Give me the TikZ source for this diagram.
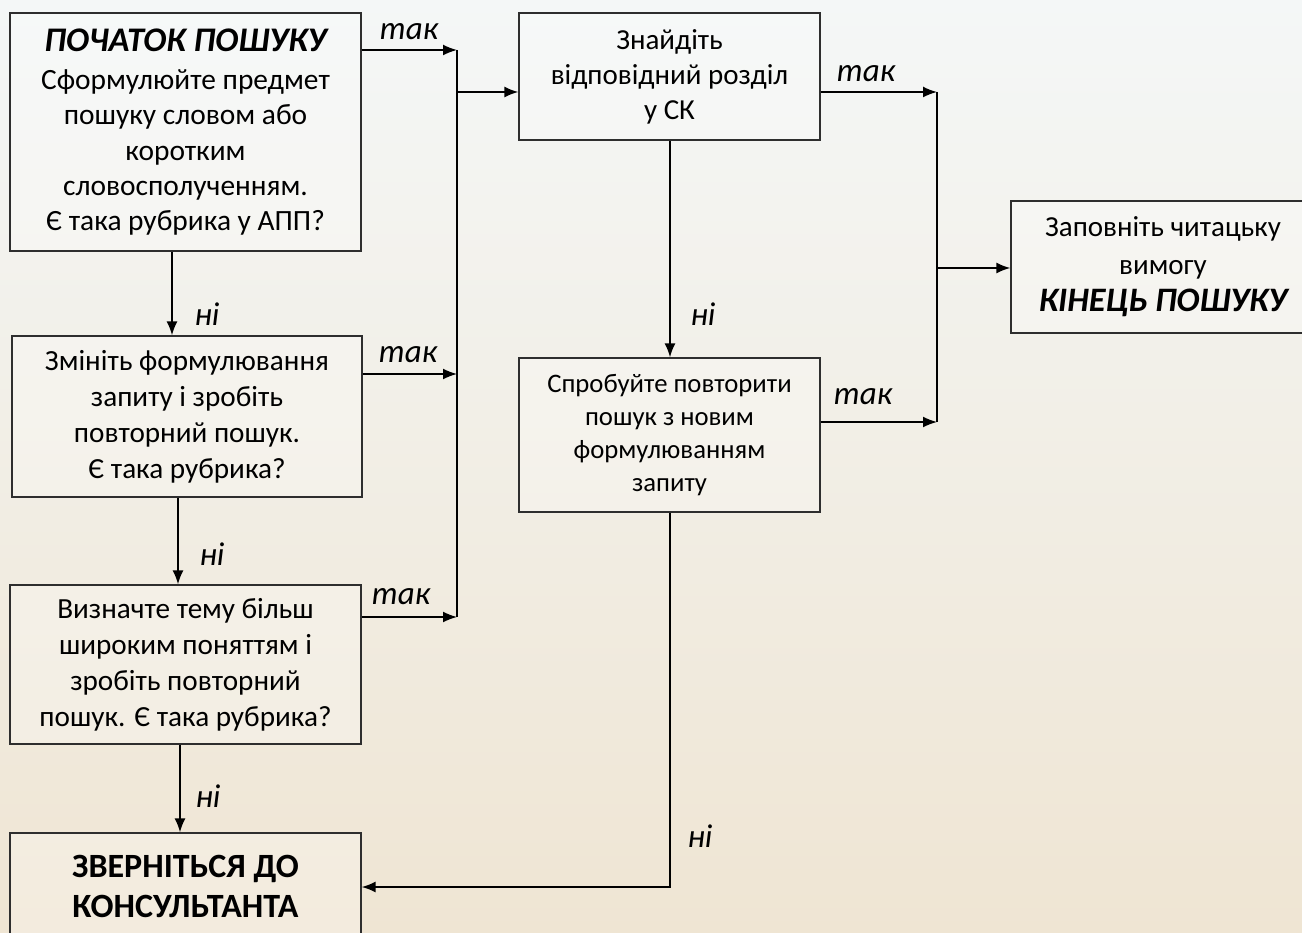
\documentclass[tikz,border=0pt]{standalone}
\usepackage{fontspec}
\setmainfont{Carlito}
\usetikzlibrary{arrows.meta}
\definecolor{bgtop}{HTML}{F4F7F7}
\definecolor{bgmid}{HTML}{F3F1EA}
\definecolor{bgbot}{HTML}{EFE5D3}
\definecolor{edge}{HTML}{2E2E2E}
\tikzset{
  box/.style={draw=edge, line width=1.4pt, fill=white, fill opacity=0.25, text opacity=1,
    inner sep=0pt, align=center, text=black},
  conn/.style={draw=black, line width=1.6pt},
  arr/.style={conn, -{Latex[length=14pt,width=11pt]}},
  lbl/.style={font=\fontsize{33}{36}\selectfont\itshape, inner sep=0pt},
}
\begin{document}
\begin{tikzpicture}[x=1pt,y=-1pt]
\clip (0,0) rectangle (1302,933);
\shade[top color=bgtop, middle color=bgmid, bottom color=bgbot] (0,0) rectangle (1302,933);

% boxes
\node[box, font=\fontsize{29.4}{35.3}\selectfont, minimum width=351pt, minimum height=238pt] (b1) at (185.5,132)
 {{\fontsize{34.5}{36}\selectfont\bfseries\itshape ПОЧАТОК ПОШУКУ}\\[3pt]Сформулюйте предмет\\пошуку словом або\\коротким\\словосполученням.\\Є така рубрика у АПП?};
\node[box, font=\fontsize{29.2}{36}\selectfont, minimum width=350pt, minimum height=161pt] (b2) at (187,416.5)
 {Змініть формулювання\\запиту і зробіть\\повторний пошук.\\Є така рубрика?};
\node[box, font=\fontsize{29.2}{36}\selectfont, minimum width=351pt, minimum height=159pt] (b3) at (185.5,664.5)
 {Визначте тему більш\\широким поняттям і\\зробіть повторний\\пошук. Є така рубрика?};
\node[box, font=\fontsize{34}{40}\selectfont\bfseries, minimum width=351pt, minimum height=106pt] (b4) at (185.5,886)
 {ЗВЕРНІТЬСЯ ДО\\КОНСУЛЬТАНТА};
\node[box, font=\fontsize{29}{35}\selectfont, minimum width=301pt, minimum height=127pt] (b5) at (669.5,76.5)
 {Знайдіть\\відповідний розділ\\у СК};
\node[box, font=\fontsize{26.7}{33}\selectfont, minimum width=301pt, minimum height=154pt] (b6) at (669.5,435)
 {Спробуйте повторити\\пошук з новим\\формулюванням\\запиту};
\node[box, font=\fontsize{29}{37.5}\selectfont, minimum width=304pt, minimum height=132pt] (b7) at (1163,267)
 {Заповніть читацьку\\вимогу\\{\fontsize{34.3}{37}\selectfont\bfseries\itshape КІНЕЦЬ ПОШУКУ}};

% junction coordinates
\coordinate (l1) at (457,50);
\coordinate (l2) at (457,374);
\coordinate (l3) at (457,617);
\coordinate (s1) at (458,92);
\coordinate (r1) at (937,92);
\coordinate (r2) at (937,422);
\coordinate (r3) at (937,268);
\coordinate (d1) at (670,887);

% left bus
\draw[arr] (b1.east |- l1) -- (l1);
\draw[arr] (b2.east |- l2) -- (l2);
\draw[arr] (b3.east |- l3) -- (l3);
\draw[conn] (l1) -- (l3);
\draw[arr] (s1) -- (b5.west |- s1);

% downward no
\draw[arr] (b1.south -| 172,0) -- (b2.north -| 172,0);
\draw[arr] (b2.south -| 178,0) -- (b3.north -| 178,0);
\draw[arr] (b3.south -| 180,0) -- (b4.north -| 180,0);
\draw[arr] (b5.south -| 670,0) -- (b6.north -| 670,0);

% right bus
\draw[arr] (b5.east |- r1) -- (r1);
\draw[arr] (b6.east |- r2) -- (r2);
\draw[conn] (r1) -- (r2);
\draw[arr] (r3) -- (b7.west |- r3);

% to consultant
\draw[arr] (b6.south -| d1) -- (d1) -- (b4.east |- d1);

% labels
\node[lbl] (t1) at (409,32) {так};
\node[lbl] (t2) at (408,355) {так};
\node[lbl] (t3) at (401,597) {так};
\node[lbl] (t4) at (866,74) {так};
\node[lbl] (t5) at (863,397) {так};
\node[lbl] (n1) at (207,314) {ні};
\node[lbl] (n2) at (212,554) {ні};
\node[lbl] (n3) at (208,796) {ні};
\node[lbl] (n4) at (703,314) {ні};
\node[lbl] (n5) at (700,836) {ні};
\end{tikzpicture}
\end{document}
